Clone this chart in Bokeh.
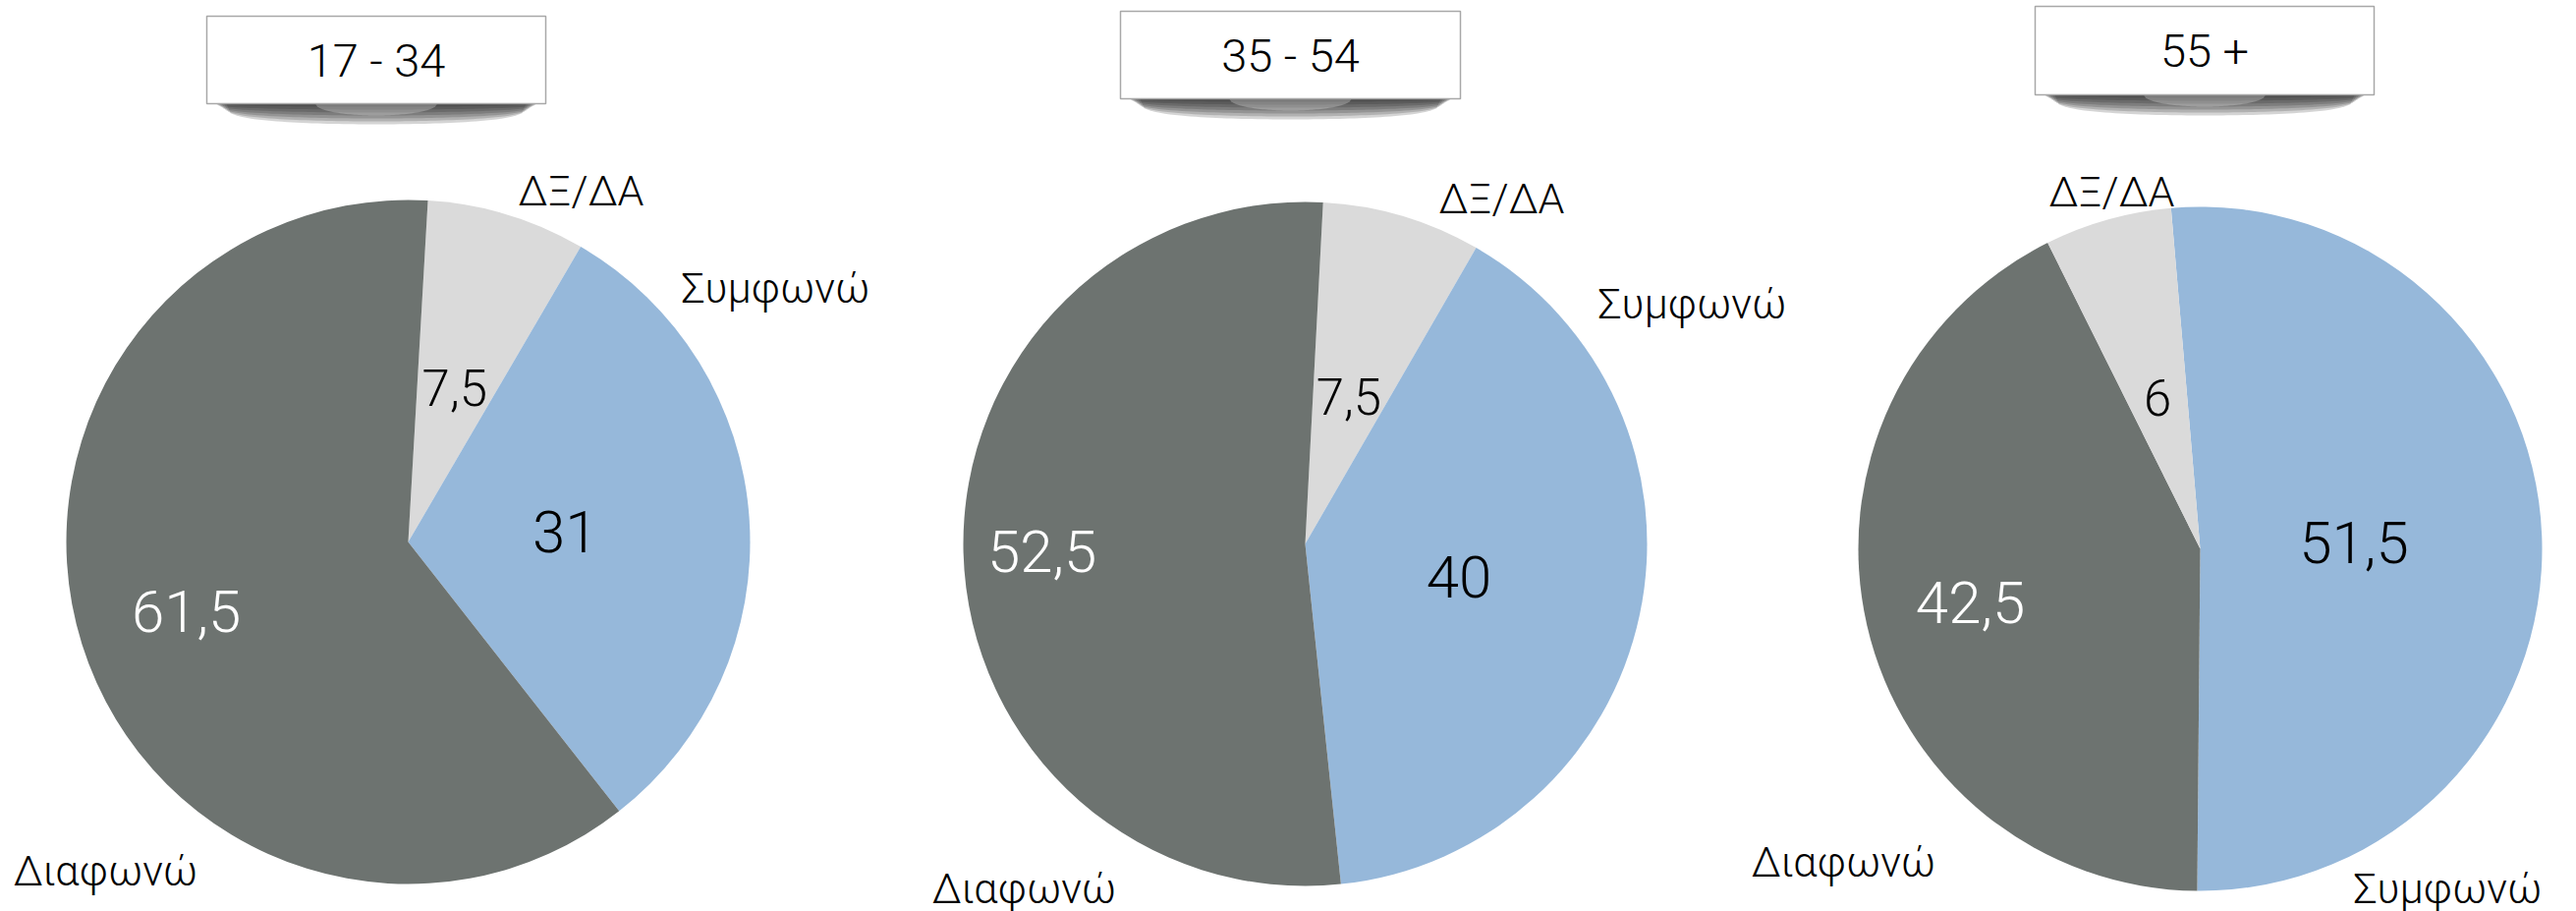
import numpy as np
from bokeh.plotting import figure
from bokeh.models import ColumnDataSource, Range1d
from bokeh.core.properties import value
from bokeh.embed import file_html
from bokeh.resources import INLINE

# ---------------- data ----------------
groups = ["17 - 34", "35 - 54", "55 +"]
categories = ["ΔΞ/ΔΑ", "Συμφωνώ", "Διαφωνώ"]
dk_na = [7.5, 7.5, 6]          # ΔΞ/ΔΑ
agree = [31, 40, 51.5]         # Συμφωνώ
disagree = [61.5, 52.5, 42.5]  # Διαφωνώ
series = [dk_na, agree, disagree]

# ---------------- style / layout ----------------
W, H = 2622, 927
colors = ["#dadada", "#96b8da", "#6d7370"]
val_colors = ["#000000", "#000000", "#ffffff"]
FONT = "Roboto Light"

centers = [(415, 551), (1328, 553), (2239, 558)]   # reference px, y down
R = 348
slice_order = [[0, 1, 2], [0, 1, 2], [1, 2, 0]]
start_deg = [3.3, 3.0, -4.9]                        # clockwise from 12 o'clock
label_r = [[0.47, 0.46, 0.68], [0.45, 0.46, 0.77], [0.46, 0.45, 0.69]]
# outer category label offsets from pie centre (px, y down)
cat_off = [
    [(176, -358), (374, -259), (-308, 334)],
    [(200, -352), (394, -245), (-286, 350)],
    [(-90, -364), (252, 345), (-363, 318)],
]
boxes = [(210, 555, 16, 105), (1140, 1486, 11, 100), (2071, 2416, 6, 96)]


def yu(y):
    return H - y


def fmt(v):
    return str(int(v)) if float(v).is_integer() else str(v).replace(".", ",")


p = figure(width=W, height=H, output_backend="svg", toolbar_location=None,
           x_range=Range1d(0, W), y_range=Range1d(0, H), min_border=0)
p.axis.visible = False
p.grid.visible = False
p.outline_line_color = None
p.background_fill_color = "white"
p.border_fill_color = "white"

# ---------------- pies ----------------
wx, wy, ws, we, wc = [], [], [], [], []
vx, vy, vt, vc, vs = [], [], [], [], []
for g in range(len(groups)):
    cx, cy = centers[g]
    theta = start_deg[g]
    for ci in slice_order[g]:
        v = series[ci][g]
        span = v / 100 * 360
        t1, t2 = theta, theta + span
        wx.append(cx); wy.append(yu(cy))
        ws.append(np.radians(90 - t2)); we.append(np.radians(90 - t1))
        wc.append(colors[ci])
        mid = np.radians((t1 + t2) / 2)
        rr = label_r[g][ci] * R
        vx.append(cx + rr * np.sin(mid)); vy.append(yu(cy - rr * np.cos(mid)))
        vt.append(fmt(v)); vc.append(val_colors[ci])
        vs.append("60px" if v >= 10 else "51px")
        theta = t2

p.wedge(x="x", y="y", radius=R, start_angle="s", end_angle="e", fill_color="c",
        line_color=None, direction="anticlock",
        source=ColumnDataSource(dict(x=wx, y=wy, s=ws, e=we, c=wc)))

p.text(x="x", y="y", text="t", text_color="c", text_font_size="fs",
       text_align="center", text_baseline="middle", text_font=value(FONT),
       source=ColumnDataSource(dict(x=vx, y=vy, t=vt, c=vc, fs=vs)))

# category labels
lx, ly, lt = [], [], []
for g in range(len(groups)):
    cx, cy = centers[g]
    for ci, cat in enumerate(categories):
        dx, dy = cat_off[g][ci]
        lx.append(cx + dx); ly.append(yu(cy + dy)); lt.append(cat)
p.text(x="x", y="y", text="t", text_color="#000000", text_font_size="43px",
       text_align="center", text_baseline="middle", text_font=value(FONT),
       source=ColumnDataSource(dict(x=lx, y=ly, t=lt)))

# ---------------- title boxes with curled shadow ----------------
for (l, r, t, b) in boxes:
    n = 60
    for k in range(7):
        depth = 5 + 3.0 * k
        inset = 4 + 2.5 * k
        xs = np.linspace(l + inset, r - inset, n)
        u = (xs - (l + r) / 2) / ((r - l) / 2 - inset)
        ys = b - 2 + depth * np.sqrt(np.clip(1 - u ** 2, 0, 1)) ** 0.5
        px = list(xs) + [r - inset, l + inset]
        py = [yu(v) for v in ys] + [yu(b - 6), yu(b - 6)]
        p.patch(px, py, fill_color="#1a1a1a", fill_alpha=0.19, line_color=None)
    # lighter centre of the shadow
    xs = np.linspace(l + 0.32 * (r - l), r - 0.32 * (r - l), n)
    u = (xs - (l + r) / 2) / (0.18 * (r - l))
    ys = b + 12 * np.sqrt(np.clip(1 - u ** 2, 0, 1))
    p.patch(list(xs), [yu(v) for v in ys], fill_color="white", fill_alpha=0.25, line_color=None)

bl = [bb[0] for bb in boxes]; br = [bb[1] for bb in boxes]
bt = [yu(bb[2]) for bb in boxes]; bb_ = [yu(bb[3]) for bb in boxes]
p.quad(left=bl, right=br, top=bt, bottom=bb_, fill_color="white",
       line_color="#a8a8a8", line_width=1.5)
p.text(x=[(a + c) / 2 for a, c in zip(bl, br)], y=[(a + c) / 2 for a, c in zip(bt, bb_)],
       text=groups, text_color="#000000", text_font_size="47px",
       text_align="center", text_baseline="middle", text_font=value(FONT))

open("out.html", "w").write(file_html(p, INLINE))
